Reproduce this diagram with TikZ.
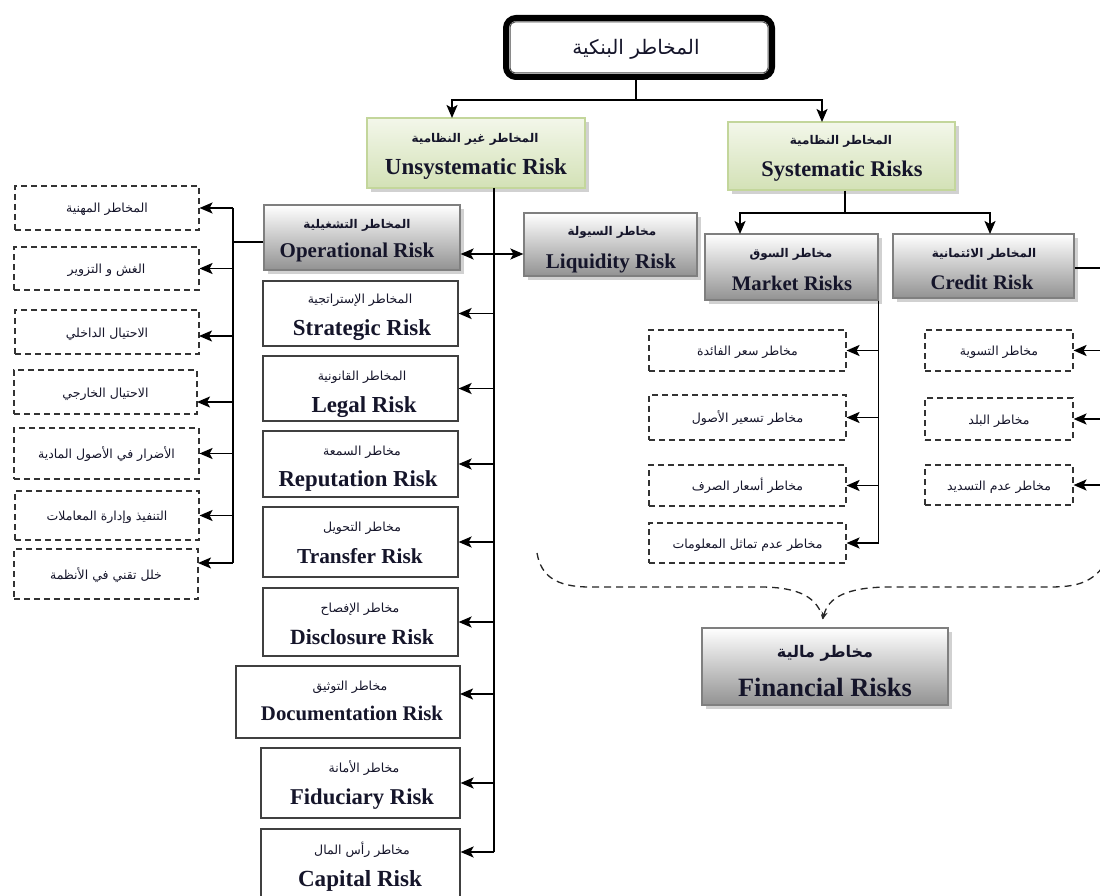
\documentclass[tikz,border=0pt]{standalone}
\usepackage{fontspec}
\setmainfont{Liberation Serif}
\newfontfamily\arabicfont[Script=Arabic]{DejaVu Sans}
\TeXXeTstate=1
\usetikzlibrary{arrows.meta,shadows,fit}

\definecolor{txt}{HTML}{15152A}
\definecolor{grayline}{HTML}{7F7F7F}
\definecolor{graybot}{HTML}{929292}
\definecolor{greenline}{HTML}{C3D69B}
\definecolor{greentop}{HTML}{F3F7EA}
\definecolor{greenbot}{HTML}{D3E1B6}

\tikzset{
  boxshadow/.style={drop shadow={shadow xshift=4pt, shadow yshift=-4pt, fill=black!40, opacity=0.45}},
  graybox/.style={draw=grayline, line width=1.2pt, top color=white, bottom color=graybot, boxshadow, inner sep=0pt},
  greenbox/.style={draw=greenline, line width=1.2pt, top color=greentop, bottom color=greenbot, boxshadow, inner sep=0pt},
  whitebox/.style={draw=black!75, line width=1.2pt, fill=white, inner sep=0pt},
  dashbox/.style={draw=black!80, line width=1.1pt, dash pattern=on 6pt off 4pt, fill=white, inner sep=0pt,
                  text=txt, font=\arabicfont\fontsize{12.5}{14}\selectfont, text height=11pt, text depth=1pt},
  entext/.style={font=\fontsize{#1}{#1}\selectfont\bfseries, text=txt, anchor=base, inner sep=0pt},
  entext/.default=22,
  artext/.style={font=\arabicfont\fontsize{#1}{#1}\selectfont, text=txt, inner sep=0pt},
  artext/.default=12.5,
  arbold/.style={font=\arabicfont\bfseries\fontsize{#1}{#1}\selectfont, text=txt, inner sep=0pt},
  arbold/.default=12,
  plain/.style={draw=black, line width=1.4pt},
  tip/.style={},
  arrowline/.style={draw=black, line width=1.8pt, -{Stealth[length=13pt,width=11pt,inset=3pt]}},
  twoway/.style={draw=black, line width=1.8pt, {Stealth[length=13pt,width=11pt,inset=3pt]}-{Stealth[length=13pt,width=11pt,inset=3pt]}},
  bracestyle/.style={draw=black!85, line width=1.3pt, dash pattern=on 7pt off 5pt},
}
\newcommand{\rl}[1]{\beginR #1\endR}

\begin{document}
\begin{tikzpicture}[x=1pt,y=-1pt]
\useasboundingbox (0,0) rectangle (1100,896);
\clip (0,0) rectangle (1100,896);
\fill[white] (0,0) rectangle (1100,896);

% ---------- root ----------
\node[draw=black, line width=6pt, rounded corners=10pt, fill=white, inner sep=0pt,
      fit={(506,18) (772,77)}] (top) {};
\draw[black!70, line width=1pt, rounded corners=5pt]
  ([shift={(7,7)}]top.north west) rectangle ([shift={(-7,-7)}]top.south east);
\node[artext=20] (top-ar) at (636,49) {\rl{المخاطر البنكية}};

% ---------- first level ----------
\node[greenbox, fit={(367,118) (585,188)}] (uns) {};
\node[arbold] (uns-ar) at (475,139) {\rl{المخاطر غير النظامية}};
\node[entext=23] (uns-en) at (476,175) {Unsystematic Risk};

\node[greenbox, fit={(728,122) (955,190)}] (sys) {};
\node[arbold] (sys-ar) at (841,141) {\rl{المخاطر النظامية}};
\node[entext=22.4] (sys-en) at (842,177) {Systematic Risks};

% ---------- systematic branch ----------
\node[graybox, fit={(705,234) (878,300)}] (mkt) {};
\node[arbold] (mkt-ar) at (791,254) {\rl{مخاطر السوق}};
\node[entext=20.7] (mkt-en) at (792,290) {Market Risks};

\node[graybox, fit={(893,234) (1074,298)}] (crd) {};
\node[arbold] (crd-ar) at (984,254) {\rl{المخاطر الائتمانية}};
\node[entext=20.7] (crd-en) at (982,289) {Credit Risk};

\node[dashbox, minimum width=197pt, minimum height=41pt] (md1) at (747.5,350.5) {\rl{مخاطر سعر الفائدة}};
\node[dashbox, minimum width=197pt, minimum height=45pt] (md2) at (747.5,417.5) {\rl{مخاطر تسعير الأصول}};
\node[dashbox, minimum width=197pt, minimum height=41pt] (md3) at (747.5,485.5) {\rl{مخاطر أسعار الصرف}};
\node[dashbox, minimum width=197pt, minimum height=40pt] (md4) at (747.5,543) {\rl{مخاطر عدم تماثل المعلومات}};

\node[dashbox, minimum width=148pt, minimum height=41pt] (cd1) at (999,350.5) {\rl{مخاطر التسوية}};
\node[dashbox, minimum width=148pt, minimum height=42pt] (cd2) at (999,419) {\rl{مخاطر البلد}};
\node[dashbox, minimum width=148pt, minimum height=40pt] (cd3) at (999,485) {\rl{مخاطر عدم التسديد}};

% ---------- unsystematic branch ----------
\node[graybox, fit={(264,205) (460,270)}] (oper) {};
\node[arbold] (oper-ar) at (357,225) {\rl{المخاطر التشغيلية}};
\node[entext=21] (oper-en) at (357,258) {Operational Risk};

\node[graybox, fit={(524,213) (697,276)}] (liq) {};
\node[arbold] (liq-ar) at (612,232) {\rl{مخاطر السيولة}};
\node[entext=21] (liq-en) at (611,268) {Liquidity Risk};

\node[whitebox, fit={(263,281) (458,346)}] (strat) {};
\node[artext] (strat-ar) at (360,300) {\rl{المخاطر الإستراتجية}};
\node[entext=22.9] (strat-en) at (362,335) {Strategic Risk};

\node[whitebox, fit={(263,356) (458,421)}] (legal) {};
\node[artext] (legal-ar) at (362,377) {\rl{المخاطر القانونية}};
\node[entext=22.9] (legal-en) at (364,412) {Legal Risk};

\node[whitebox, fit={(263,431) (458,497)}] (rep) {};
\node[artext] (rep-ar) at (362,452) {\rl{مخاطر السمعة}};
\node[entext=22.8] (rep-en) at (358,486) {Reputation Risk};

\node[whitebox, fit={(263,507) (458,577)}] (trans) {};
\node[artext] (trans-ar) at (362,528) {\rl{مخاطر التحويل}};
\node[entext=21.3] (trans-en) at (360,563) {Transfer Risk};

\node[whitebox, fit={(263,588) (458,656)}] (disc) {};
\node[artext] (disc-ar) at (360,609) {\rl{مخاطر الإفصاح}};
\node[entext=21.7] (disc-en) at (362,644) {Disclosure Risk};

\node[whitebox, fit={(236,666) (460,738)}] (doc) {};
\node[artext] (doc-ar) at (350,687) {\rl{مخاطر التوثيق}};
\node[entext=20.8] (doc-en) at (352,720) {Documentation Risk};

\node[whitebox, fit={(261,748) (460,818)}] (fid) {};
\node[artext] (fid-ar) at (364,768) {\rl{مخاطر الأمانة}};
\node[entext=22.6] (fid-en) at (362,804) {Fiduciary Risk};

\node[whitebox, fit={(261,829) (460,910)}] (cap) {};
\node[artext] (cap-ar) at (362,850) {\rl{مخاطر رأس المال}};
\node[entext=23.1] (cap-en) at (360,886) {Capital Risk};

% operational sub-risks
\node[dashbox, minimum width=184pt, minimum height=44pt] (lb1) at (107,208) {\rl{المخاطر المهنية}};
\node[dashbox, minimum width=185pt, minimum height=43pt] (lb2) at (106.5,268.5) {\rl{الغش و التزوير}};
\node[dashbox, minimum width=184pt, minimum height=44pt] (lb3) at (107,332) {\rl{الاحتيال الداخلي}};
\node[dashbox, minimum width=183pt, minimum height=44pt] (lb4) at (105.5,392) {\rl{الاحتيال الخارجي}};
\node[dashbox, minimum width=185pt, minimum height=51pt] (lb5) at (106.5,453.5) {\rl{الأضرار في الأصول المادية}};
\node[dashbox, minimum width=184pt, minimum height=49pt] (lb6) at (107,515.5) {\rl{التنفيذ وإدارة المعاملات}};
\node[dashbox, minimum width=184pt, minimum height=50pt] (lb7) at (106,574) {\rl{خلل تقني في الأنظمة}};

% ---------- financial risks ----------
\node[graybox, fit={(702,628) (948,705)}] (fin) {};
\node[arbold=16] (fin-ar) at (825,653) {\rl{مخاطر مالية}};
\node[entext=26.4] (fin-en) at (825,696) {Financial Risks};

% ---------- junction points ----------
\coordinate (topbar) at (636,100);
\coordinate (uns-in) at (452,118);
\coordinate (sys-in) at (822,122);
\coordinate (sysbar) at (845,213);
\coordinate (mkt-in) at (740,234);
\coordinate (crd-in) at (990,234);
\coordinate (ubus) at (494,188);
\coordinate (dbl) at (494,254);
\coordinate (capin) at (494,852);
\coordinate (lbus) at (233,242);
\coordinate (lb3in) at (199,336);
\coordinate (lb4in) at (197,402);
\coordinate (lb7in) at (198,563);
\coordinate (docin) at (460,694);
\coordinate (cbus) at (1106,268);
\coordinate (brL) at (537,553);
\coordinate (brR) at (1102,568);
\coordinate (brtip) at (823,619);

% ---------- connectors ----------
\draw[plain] (topbar |- top.south) -- (topbar);
\draw[arrowline] (topbar) -| (uns-in);
\draw[arrowline] (topbar) -| (sys-in);

\draw[plain] (sysbar |- sys.south) -- (sysbar);
\draw[arrowline] (sysbar) -| (mkt-in);
\draw[arrowline] (sysbar) -| (crd-in);

\draw[plain] (mkt.south east) -- (mkt.south east |- md4);
\foreach \b in {md1,md2,md3,md4}
  \draw[arrowline] (mkt.south east |- \b) -- (\b.east);

\draw[plain] (crd.east |- cbus) -- (cbus) -- (cbus |- cd3);
\foreach \b in {cd1,cd2,cd3}
  \draw[arrowline] (cbus |- \b) -- (\b.east);

\draw[plain] (ubus) -- (capin);
\draw[twoway] (oper.east |- dbl) -- (liq.west |- dbl);
\foreach \b in {strat,legal,rep,trans,disc,fid}
  \draw[arrowline] (ubus |- \b) -- (\b.east);
\draw[arrowline] (ubus |- docin) -- (docin);
\draw[arrowline] (capin) -- (cap.east |- capin);

\draw[plain] (oper.west |- lbus) -- (lbus);
\draw[plain] (lbus |- lb1) -- (lbus |- lb7in);
\foreach \b in {lb1,lb2,lb5,lb6}
  \draw[arrowline] (lbus |- \b) -- (\b.east);
\draw[arrowline] (lbus |- lb3in) -- (lb3in);
\draw[arrowline] (lbus |- lb4in) -- (lb4in);
\draw[arrowline] (lbus |- lb7in) -- (lb7in);

% dashed brace gathering the market and credit risks
\draw[bracestyle] (brL) .. controls (541,576) and (556,587) .. (590,587)
  -- (760,587) .. controls (800,587) and (818,598) .. (brtip);
\draw[bracestyle, -{Stealth[length=7pt,width=6pt]}] (brR) .. controls (1090,583) and (1075,587) .. (1050,587)
  -- (890,587) .. controls (846,587) and (828,598) .. (brtip);
\end{tikzpicture}
\end{document}
